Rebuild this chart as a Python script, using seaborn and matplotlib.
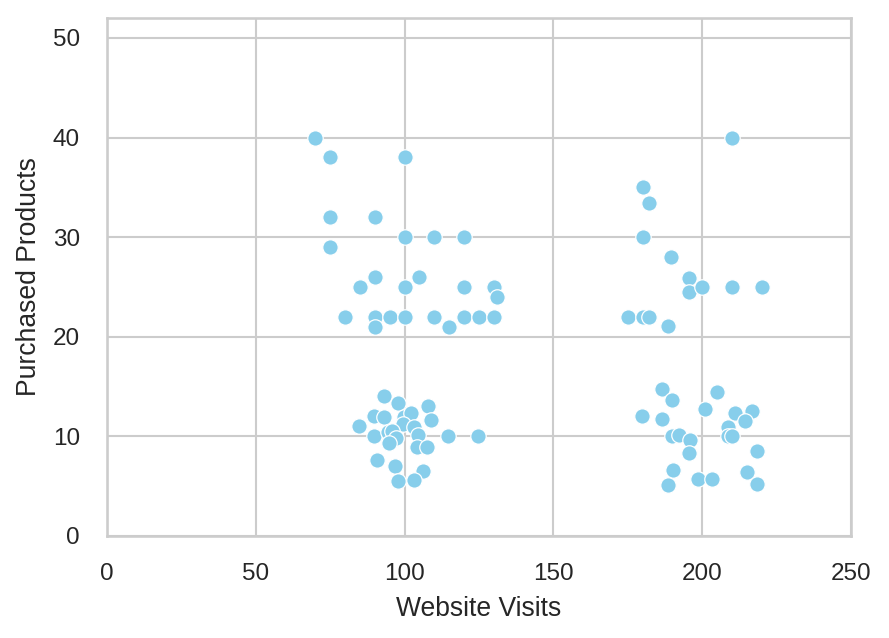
import numpy as np
import pandas as pd
import matplotlib
matplotlib.use("Agg")
import matplotlib.pyplot as plt
import seaborn as sns

# Website visits vs purchased products
visits_hi_a = [70, 75, 100, 75, 90, 100, 110, 120, 75, 90, 85, 100, 105, 120, 130, 131,
               80, 90, 90, 95, 100, 110, 115, 120, 125, 130]
products_hi_a = [40, 38, 38, 32, 32, 30, 30, 30, 29, 26, 25, 25, 26, 25, 25, 24,
                 22, 22, 21, 22, 22, 22, 21, 22, 22, 22]

visits_lo_a = [93.2, 97.9, 108.0, 89.8, 93.2, 99.8, 102.2, 109.0, 84.8, 99.4, 103.2,
               89.8, 94.5, 95.7, 97.1, 94.9, 104.6, 114.7, 124.8, 104.0, 107.4,
               90.7, 96.9, 106.3, 97.9, 103.3]
products_lo_a = [14.1, 13.35, 13.05, 12.05, 11.95, 11.98, 12.3, 11.6, 11.04, 11.2, 10.97,
                 10.04, 10.47, 10.5, 9.8, 9.3, 10.1, 10.0, 10.0, 8.9, 8.9,
                 7.6, 7.0, 6.5, 5.5, 5.6]

visits_hi_b = [210, 180, 182.2, 180, 189.5, 195.7, 195.7, 200, 210, 220, 175, 180, 182.2, 188.6]
products_hi_b = [40, 35, 33.4, 30, 28, 25.9, 24.5, 25, 25, 25, 22, 22, 22, 21.05]

visits_lo_b = [186.6, 190.0, 205.1, 179.9, 186.6, 201.0, 211.1, 216.8, 214.4, 208.8,
               189.7, 192.3, 195.9, 195.7, 208.8, 209.9, 218.5, 190.3, 188.6, 198.7,
               203.4, 215.2, 218.5]
products_lo_b = [14.76, 13.7, 14.5, 12.05, 11.7, 12.75, 12.3, 12.55, 11.55, 10.9,
                 10.04, 10.1, 9.64, 8.3, 10.04, 10.04, 8.53, 6.6, 5.15, 5.72,
                 5.72, 6.43, 5.19]

df = pd.DataFrame({
    "Website Visits": visits_hi_a + visits_lo_a + visits_hi_b + visits_lo_b,
    "Purchased Products": products_hi_a + products_lo_a + products_hi_b + products_lo_b,
})

sns.set_theme(style="whitegrid", font_scale=1.06)
plt.rcParams["font.family"] = ["Liberation Sans", "DejaVu Sans"]

fig, ax = plt.subplots(figsize=(889 / 150, 638 / 150), dpi=150)
fig.subplots_adjust(left=107 / 889, right=851 / 889, top=1 - 18 / 638, bottom=1 - 536 / 638)

sns.scatterplot(data=df, x="Website Visits", y="Purchased Products", color="skyblue", s=55, ax=ax)

ax.set_xlim(0, 250)
ax.set_ylim(0, 52)
ax.set_xticks([0, 50, 100, 150, 200, 250])
ax.set_yticks([0, 10, 20, 30, 40, 50])
ax.tick_params(axis="both", pad=7)
ax.xaxis.labelpad = 5
ax.yaxis.labelpad = 5

fig.savefig("out.png", dpi=150)
